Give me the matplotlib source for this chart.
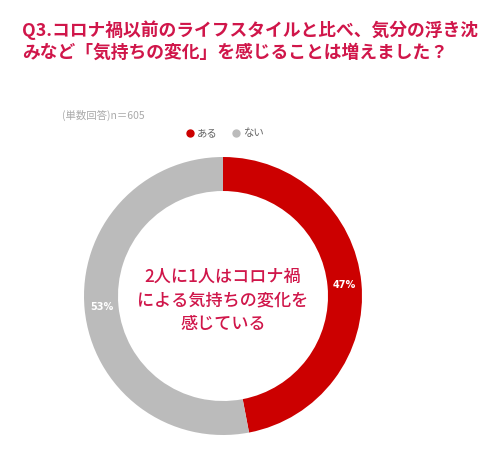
import matplotlib.pyplot as plt

plt.rcParams['font.family'] = ['Noto Sans CJK JP', 'DejaVu Sans']

# データ
labels = ['ある', 'ない']
values = [47, 53]
colors_list = ['#CC0000', '#BBBBBB']
title_lines = ['Q3.コロナ禍以前のライフスタイルと比べ、気分の浮き沈',
               'みなど「気持ちの変化」を感じることは増えました？']
center_lines = ['2人に1人はコロナ禍', 'による気持ちの変化を', '感じている']
note = '(単数回答)n＝605'

W, H = 488, 463
title_color = '#D0164A'

fig = plt.figure(figsize=(W / 100, H / 100), dpi=100)
ax = fig.add_axes([0, 0, 1, 1])

# ドーナツ
cx, cy, r, ring = 223, H - 296, 139, 34
wedges, texts, autotexts = ax.pie(
    values, colors=colors_list, startangle=90, counterclock=False,
    center=(cx, cy), radius=r, frame=True,
    wedgeprops=dict(width=ring, edgecolor='none'),
    autopct=lambda p: '%d%%' % round(p), pctdistance=(r - ring / 2) / r,
    textprops=dict(color='white', fontsize=7, fontweight='bold',
                   family=['DejaVu Sans']))
ax.set_xlim(0, W)
ax.set_ylim(0, H)
ax.set_aspect('equal')
ax.set_axis_off()

# タイトル
for i, line in enumerate(title_lines):
    ax.text(22, H - 30 - i * 23, line, color=title_color, fontsize=12.8,
            fontweight='bold', va='center', ha='left')

# 中央テキスト
for i, line in enumerate(center_lines):
    ax.text(cx, H - 277 - i * 23.5, line, color=title_color, fontsize=12.3,
            fontweight='medium', va='center', ha='center')

ax.text(62, H - 115, note, color='#AAAAAA', fontsize=7.5, va='center', ha='left')

# 凡例
lx = [190, 236]
for x, lab, c in zip(lx, labels, colors_list):
    ax.plot(x, H - 133, 'o', color=c, markersize=5)
    ax.text(x + 7, H - 133, lab, color='#666666', fontsize=7.5, va='center', ha='left')

fig.savefig('out.png', dpi=100, facecolor='white')
